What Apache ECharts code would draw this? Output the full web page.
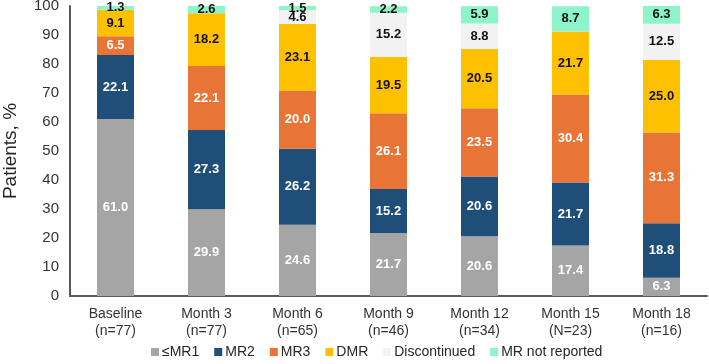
<!DOCTYPE html>
<html>
<head>
<meta charset="utf-8">
<script src="https://cdn.jsdelivr.net/npm/echarts@6/dist/echarts.min.js"></script>
<style>
  html, body { margin: 0; padding: 0; background: #fff; }
  #chart { width: 709px; height: 364px; }
</style>
</head>
<body>
<div id="chart"></div>
<script>
  // 数据
  const categories = ['Baseline\n(n=77)', 'Month 3\n(n=77)', 'Month 6\n(n=65)', 'Month 9\n(n=46)',
    'Month 12\n(n=34)', 'Month 15\n(N=23)', 'Month 18\n(n=16)'];
  const mr1 = [61.0, 29.9, 24.6, 21.7, 20.6, 17.4, 6.3];
  const mr2 = [22.1, 27.3, 26.2, 15.2, 20.6, 21.7, 18.8];
  const mr3 = [6.5, 22.1, 20.0, 26.1, 23.5, 30.4, 31.3];
  const dmr = [9.1, 18.2, 23.1, 19.5, 20.5, 21.7, 25.0];
  const discontinued = [0, 0, 4.6, 15.2, 8.8, 0, 12.5];
  const notReported = [1.3, 2.6, 1.5, 2.2, 5.9, 8.7, 6.3];
  const yTicks = [0, 10, 20, 30, 40, 50, 60, 70, 80, 90, 100];

  const chart = echarts.init(document.getElementById('chart'));

  function makeSeries(name, data, color, labelColor) {
    return {
      name: name,
      type: 'bar',
      stack: 'total',
      barWidth: 37,
      data: data,
      itemStyle: { color: color },
      label: {
        show: true,
        position: 'inside',
        color: labelColor,
        fontWeight: 'bold',
        fontSize: 13,
        fontFamily: 'Liberation Sans, Arial',
        formatter: function(p) { return p.value > 0 ? p.value.toFixed(1) : ''; }
      }
    };
  }

  const option = {
    animation: false,
    textStyle: { fontFamily: 'Liberation Sans, Arial' },
    grid: { left: 70, right: 2, top: 6, bottom: 68, outerBoundsMode: 'none', containLabel: false },
    legend: {
      left: 146,
      bottom: 0,
      itemWidth: 8,
      itemHeight: 8,
      itemGap: 15,
      icon: 'rect',
      textStyle: { fontSize: 14, color: '#262626', padding: [0, 0, 0, -2] },
      data: ['≤MR1', 'MR2', 'MR3', 'DMR', 'Discontinued', 'MR not reported']
    },
    xAxis: {
      type: 'category',
      data: categories,
      axisLine: { lineStyle: { color: '#595959', width: 2 } },
      axisTick: { show: false },
      axisLabel: { fontSize: 14, color: '#333', lineHeight: 17, margin: 10 }
    },
    yAxis: {
      type: 'value',
      min: 0,
      max: 100,
      interval: 10,
      name: 'Patients, %',
      nameLocation: 'middle',
      nameGap: 50,
      nameTextStyle: { fontSize: 19, color: '#262626' },
      axisLine: { show: true, lineStyle: { color: '#595959', width: 2 } },
      axisTick: { show: false },
      splitLine: { show: false },
      axisLabel: {
        fontSize: 15, color: '#333', margin: 11,
        formatter: function(v) { return yTicks.indexOf(v) >= 0 ? String(v) : ''; }
      }
    },
    series: [
      makeSeries('≤MR1', mr1, '#A5A5A5', '#fff'),
      makeSeries('MR2', mr2, '#1F4E79', '#fff'),
      makeSeries('MR3', mr3, '#E87436', '#fff'),
      makeSeries('DMR', dmr, '#FFC000', '#111'),
      makeSeries('Discontinued', discontinued, '#F2F2F2', '#111'),
      makeSeries('MR not reported', notReported, '#8EF5CA', '#111')
    ]
  };

  chart.setOption(option);
</script>
</body>
</html>
